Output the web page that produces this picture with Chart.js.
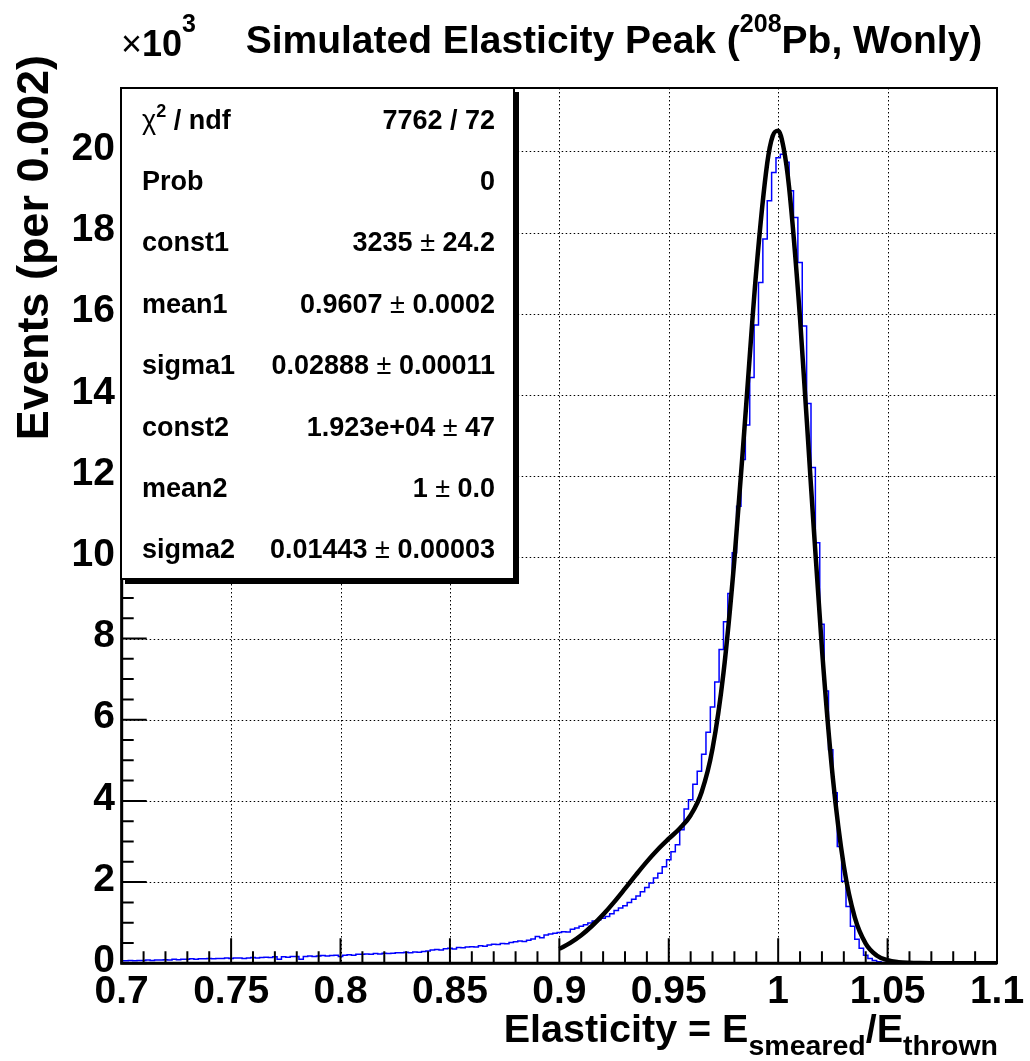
<!DOCTYPE html>
<html>
<head>
<meta charset="utf-8">
<script src="https://cdn.jsdelivr.net/npm/chart.js@4.4.1/dist/chart.umd.min.js"></script>
<style>
  html, body { margin: 0; padding: 0; background: #fff; }
  canvas { display: block; }
</style>
</head>
<body>
<canvas id="myChart" width="1030" height="1061"></canvas>
<script>
// histogram: bin centres 0.700 .. 1.100, width 0.002, counts in units of 10^3
const binStart = 0.7;
const binWidth = 0.002;
const counts = [
  0.06, 0.06, 0.07, 0.06, 0.07,  0.07, 0.08, 0.07, 0.08, 0.08,
  0.09, 0.08, 0.10, 0.09, 0.10,  0.10, 0.11, 0.10, 0.11, 0.11,
  0.12, 0.11, 0.12, 0.12, 0.13,  0.12, 0.13, 0.13, 0.12, 0.13,
  0.14, 0.13, 0.14, 0.15, 0.14,  0.16, 0.10, 0.16, 0.15, 0.17,
  0.17, 0.10, 0.17, 0.18, 0.17,  0.18, 0.19, 0.18, 0.19, 0.20,
  0.17, 0.20, 0.21, 0.20, 0.22,  0.22, 0.23, 0.22, 0.24, 0.23,
  0.25, 0.24, 0.25, 0.26, 0.26,  0.27, 0.26, 0.28, 0.27, 0.29,
  0.30, 0.33, 0.34, 0.33, 0.36,  0.37, 0.35, 0.39, 0.38, 0.40,
  0.41, 0.40, 0.43, 0.42, 0.45,  0.47, 0.46, 0.49, 0.48, 0.51,
  0.53, 0.55, 0.54, 0.57, 0.60,  0.66, 0.63, 0.70, 0.72, 0.74,
  0.76, 0.78, 0.77, 0.84, 0.87,  0.91, 0.95, 0.99, 1.04, 1.07,
  1.11, 1.15, 1.22, 1.30, 1.36,  1.42, 1.50, 1.58, 1.66, 1.76,
  1.87, 1.98, 2.10, 2.22, 2.38,  2.55, 2.75, 2.92, 3.29, 3.80,
  4.03, 4.41, 4.73, 5.15, 5.69,  6.31, 6.93, 7.73, 8.41, 9.11,
  10.11, 11.26, 12.41, 13.26, 14.43,  15.72, 16.77, 17.84, 18.78, 19.48,
  19.84, 19.93, 19.73, 19.03, 18.37,  17.26, 15.70, 13.79, 12.21, 10.36,
  8.35, 6.71, 5.26, 4.20, 2.88,  2.02, 1.40, 0.91, 0.59, 0.37,
  0.20, 0.12, 0.07, 0.04, 0.02,  0.01, 0, 0, 0, 0,
  0, 0, 0, 0, 0,  0, 0, 0, 0, 0,
  0, 0, 0, 0, 0,  0, 0, 0, 0, 0,
  0
];

// double gaussian fit
const fitX = [
  0.900, 0.905, 0.910, 0.915, 0.920, 0.925, 0.930, 0.935, 0.940, 0.945,
  0.950, 0.955, 0.960, 0.965, 0.970, 0.975, 0.980, 0.985, 0.990, 0.995,
  0.9975, 1.000, 1.0025,
  1.005, 1.010, 1.015, 1.020, 1.025, 1.030, 1.035, 1.040, 1.045, 1.050,
  1.055, 1.060, 1.065, 1.070, 1.075, 1.080, 1.085, 1.090, 1.095, 1.100
];
const fitY = [
  0.355, 0.504, 0.693, 0.925, 1.199, 1.507, 1.839, 2.178, 2.505, 2.804,
  3.068, 3.321, 3.647, 4.214, 5.287, 7.150, 9.947, 13.474, 17.06, 19.71,
  20.38, 20.51, 20.08,
  19.11, 15.88, 11.755, 7.752, 4.559, 2.397, 1.133, 0.487, 0.194, 0.075,
  0.029, 0.012, 0.005, 0.002, 0.001, 0, 0, 0, 0, 0
];

const xTicks = [0.7, 0.75, 0.8, 0.85, 0.9, 0.95, 1.0, 1.05, 1.1];
const xTickLabels = ["0.7", "0.75", "0.8", "0.85", "0.9", "0.95", "1", "1.05", "1.1"];
const yTicks = [0, 2, 4, 6, 8, 10, 12, 14, 16, 18, 20];
const yMax = 21.56;

const statNames = ["chi2", "Prob", "const1", "mean1", "sigma1", "const2", "mean2", "sigma2"];
const statValues = [
  ["7762 / 72"], ["0"], ["3235", "24.2"], ["0.9607", "0.0002"], ["0.02888", "0.00011"],
  ["1.923e+04", "47"], ["1", "0.0"], ["0.01443", "0.00003"]
];

const FONT = "'Liberation Sans', Arial, Helvetica, sans-serif";

function drawParts(ctx, parts, x, y, align) {
  let total = 0;
  parts.forEach(p => { ctx.font = p.font; p.w = ctx.measureText(p.t).width; total += p.w + (p.gap || 0); });
  let cx = align === "right" ? x - total : align === "center" ? x - total / 2 : x;
  ctx.textAlign = "left";
  ctx.textBaseline = "alphabetic";
  parts.forEach(p => {
    ctx.font = p.font;
    ctx.fillText(p.t, cx, y + (p.dy || 0));
    cx += p.w + (p.gap || 0);
  });
}

const rootStyle = {
  id: "rootStyle",
  beforeDatasetsDraw(chart) {
    const { ctx, chartArea: a, scales: { x, y } } = chart;
    ctx.save();
    ctx.strokeStyle = "#000";
    ctx.lineWidth = 1;
    ctx.setLineDash([1.5, 2.5]);
    ctx.beginPath();
    xTicks.forEach(v => {
      const px = Math.round(x.getPixelForValue(v)) + 0.5;
      ctx.moveTo(px, a.top); ctx.lineTo(px, a.bottom);
    });
    yTicks.forEach(v => {
      const py = Math.round(y.getPixelForValue(v)) + 0.5;
      ctx.moveTo(a.left, py); ctx.lineTo(a.right, py);
    });
    ctx.stroke();
    ctx.restore();
  },
  afterDatasetsDraw(chart) {
    const { ctx, chartArea: a, scales: { x, y } } = chart;
    ctx.save();
    ctx.fillStyle = "#000";
    ctx.strokeStyle = "#000";

    // ticks inside the frame
    ctx.lineWidth = 2;
    ctx.beginPath();
    for (let i = 0; i <= 40; i++) {
      const px = x.getPixelForValue(0.7 + i * 0.01);
      const len = i % 5 === 0 ? 25 : 12;
      ctx.moveTo(px, a.bottom); ctx.lineTo(px, a.bottom - len);
    }
    for (let i = 0; i * 0.5 <= yMax; i++) {
      const py = y.getPixelForValue(i * 0.5);
      const len = i % 4 === 0 ? 25 : 12;
      ctx.moveTo(a.left, py); ctx.lineTo(a.left + len, py);
    }
    ctx.stroke();

    // frame
    ctx.lineWidth = 2;
    ctx.strokeRect(a.left, a.top, a.right - a.left, a.bottom - a.top);
    ctx.lineWidth = 3;
    ctx.beginPath();
    ctx.moveTo(a.left, a.top); ctx.lineTo(a.left, a.bottom); ctx.lineTo(a.right, a.bottom);
    ctx.stroke();

    // tick labels
    ctx.font = "bold 39px " + FONT;
    ctx.textAlign = "center";
    ctx.textBaseline = "alphabetic";
    xTicks.forEach((v, i) => ctx.fillText(xTickLabels[i], x.getPixelForValue(v), 1003));
    ctx.textAlign = "right";
    ctx.textBaseline = "middle";
    yTicks.forEach(v => ctx.fillText(String(v), 115, y.getPixelForValue(v) - 2));

    // x10^3
    drawParts(ctx, [
      { t: "\u00d7", font: "36px " + FONT },
      { t: "10", font: "bold 36px " + FONT },
      { t: "3", font: "bold 25px " + FONT, dy: -24 }
    ], 121, 56, "left");

    // title
    drawParts(ctx, [
      { t: "Simulated Elasticity Peak (", font: "bold 39px " + FONT },
      { t: "208", font: "bold 25px " + FONT, dy: -21 },
      { t: "Pb, Wonly)", font: "bold 39px " + FONT }
    ], 614, 53, "center");

    // x title
    drawParts(ctx, [
      { t: "Elasticity = E", font: "bold 39.5px " + FONT },
      { t: "smeared", font: "bold 28.5px " + FONT, dy: 13 },
      { t: "/E", font: "bold 39.5px " + FONT },
      { t: "thrown", font: "bold 28.5px " + FONT, dy: 13 }
    ], 998, 1042, "right");

    // y title
    ctx.save();
    ctx.translate(48, 55);
    ctx.rotate(-Math.PI / 2);
    ctx.font = "bold 45px " + FONT;
    ctx.textAlign = "right";
    ctx.textBaseline = "alphabetic";
    ctx.fillText("Events (per 0.002)", 0, 0);
    ctx.restore();

    // stats box with shadow
    const bx = 121, by = 88, bw = 393, bh = 491;
    ctx.fillStyle = "#000";
    ctx.fillRect(bx + 4, by + 4, bw + 1, bh + 1);
    ctx.fillStyle = "#fff";
    ctx.fillRect(bx, by, bw, bh);
    ctx.lineWidth = 2;
    ctx.strokeStyle = "#000";
    ctx.strokeRect(bx, by, bw, bh);
    ctx.fillStyle = "#000";
    const rowH = bh / statNames.length;
    statNames.forEach((name, i) => {
      const base = by + rowH * (i + 0.5) + 10;
      if (name === "chi2") {
        drawParts(ctx, [
          { t: "\u03c7", font: "27px " + FONT },
          { t: "2", font: "bold 18px " + FONT, dy: -12 },
          { t: " / ndf", font: "bold 27px " + FONT }
        ], 142, base, "left");
      } else {
        drawParts(ctx, [{ t: name, font: "bold 27px " + FONT }], 142, base, "left");
      }
      const val = statValues[i];
      const parts = [{ t: val[0], font: "bold 27px " + FONT }];
      if (val.length > 1) {
        parts.push({ t: " \u00b1 ", font: "27px " + FONT });
        parts.push({ t: val[1], font: "bold 27px " + FONT });
      }
      drawParts(ctx, parts, 495, base, "right");
    });
    ctx.restore();
  }
};

const histData = counts.map((v, i) => ({ x: binStart + i * binWidth, y: v }));
const fitData = fitX.map((v, i) => ({ x: v, y: fitY[i] }));

const ctx = document.getElementById("myChart");

new Chart(ctx, {
  type: "line",
  data: {
    datasets: [
      {
        label: "fit",
        data: fitData,
        borderColor: "#000",
        borderWidth: 4.5,
        pointRadius: 0,
        cubicInterpolationMode: "monotone",
        fill: false,
        order: 0
      },
      {
        label: "Elasticity",
        data: histData,
        borderColor: "#0000ff",
        borderWidth: 1.5,
        pointRadius: 0,
        stepped: "middle",
        fill: false,
        order: 1
      }
    ]
  },
  options: {
    responsive: false,
    animation: false,
    events: [],
    layout: {
      padding: { left: 121.7, top: 88, right: 33, bottom: 97.7 }
    },
    scales: {
      x: { type: "linear", min: 0.7, max: 1.1, display: false },
      y: { type: "linear", min: 0, max: yMax, display: false }
    },
    plugins: {
      legend: { display: false },
      tooltip: { enabled: false }
    }
  },
  plugins: [rootStyle]
});
</script>
</body>
</html>
